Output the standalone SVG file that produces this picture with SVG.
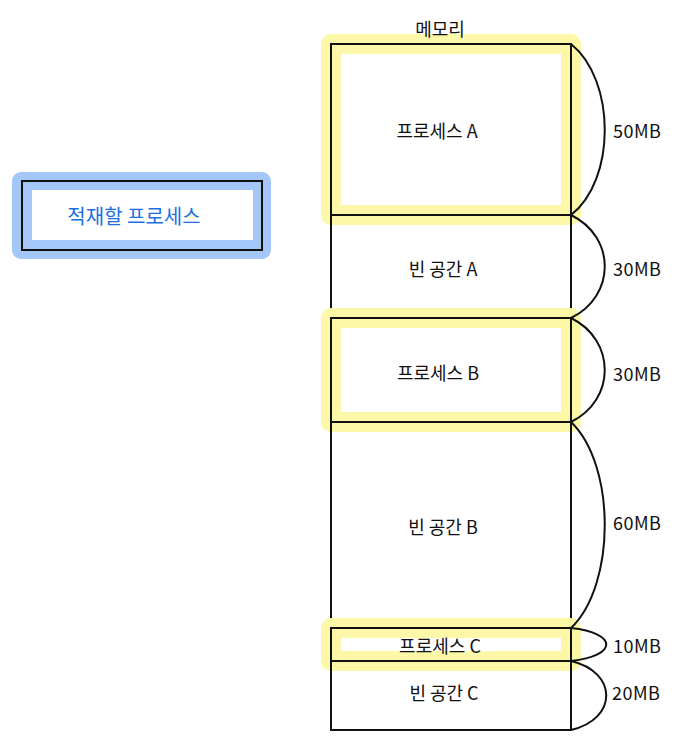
<svg xmlns="http://www.w3.org/2000/svg" width="692" height="750" viewBox="0 0 692 750">
<style>
text{font-family:"Noto Sans CJK KR","Noto Sans",sans-serif;font-size:18px;fill:#111;text-anchor:middle;dominant-baseline:central}
.hl{fill:none;stroke:#fdf8a8;stroke-width:20;stroke-linejoin:round}
.cell{fill:none;stroke:#111;stroke-width:2}
.brace{fill:none;stroke:#111;stroke-width:2}
.sz{text-anchor:start;letter-spacing:0.5px}
</style>
<rect width="692" height="750" fill="#fff"/>
<g id="load-process">
<rect x="12" y="172" width="259" height="87" rx="9" fill="#a3c7f9"/>
<rect x="22" y="181" width="240" height="69" fill="none" stroke="#111" stroke-width="2"/>
<rect x="32" y="190" width="221" height="50" fill="#fff"/>
<text x="134" y="215" style="fill:#1c6fe3;font-size:20px">적재할 프로세스</text>
</g>
<g id="process-a">
<rect class="hl" x="331" y="44" width="240" height="171"/>
<rect class="cell" x="331" y="44" width="240" height="171"/>
<text x="437" y="130">프로세스 A</text>
</g>
<g id="free-a">
<rect class="cell" x="331" y="215" width="240" height="103"/>
<text x="443" y="268">빈 공간 A</text>
</g>
<g id="process-b">
<rect class="hl" x="331" y="318" width="240" height="104"/>
<rect class="cell" x="331" y="318" width="240" height="104"/>
<text x="438" y="372">프로세스 B</text>
</g>
<g id="free-b">
<rect class="cell" x="331" y="422" width="240" height="206"/>
<text x="443" y="526">빈 공간 B</text>
</g>
<g id="process-c">
<rect class="hl" x="331" y="628" width="240" height="33"/>
<rect class="cell" x="331" y="628" width="240" height="33"/>
<text x="440" y="645">프로세스 C</text>
</g>
<g id="free-c">
<rect class="cell" x="331" y="661" width="240" height="69"/>
<text x="444" y="692">빈 공간 C</text>
</g>
<g id="memory-label"><text x="440" y="28">메모리</text></g>
<g id="connectors">
<path class="brace" d="M571 44 C616 80 616 180 571 215"/>
<path class="brace" d="M571 215 C616 237 616 296 571 318"/>
<path class="brace" d="M571 318 C616 340 616 400 571 422"/>
<path class="brace" d="M571 422 C616 465 616 585 571 628"/>
<path class="brace" d="M571 628 C618 633 618 656 571 661"/>
<path class="brace" d="M571 661 C618 672 618 719 571 730"/>
</g>
<g id="sizes">
<text class="sz" x="613" y="130">50MB</text>
<text class="sz" x="613" y="268">30MB</text>
<text class="sz" x="613" y="373">30MB</text>
<text class="sz" x="613" y="522">60MB</text>
<text class="sz" x="613" y="645">10MB</text>
<text class="sz" x="612" y="692">20MB</text>
</g>
</svg>
